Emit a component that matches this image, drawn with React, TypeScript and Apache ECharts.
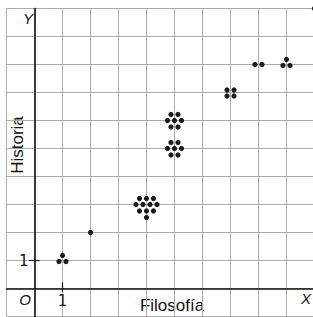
import React, { useEffect, useRef } from "react";
import * as echarts from "echarts";

// Bivariate frequency data (Filosofía, Historia, number of students)
const filosofia = [1, 2, 4, 5, 5, 7, 8, 9, 10];
const historia = [1, 2, 3, 5, 6, 7, 8, 8, 10];
const frecuencia = [3, 1, 11, 7, 7, 4, 2, 3, 1];

// Axis tick labels shown
const xTickLabels = [1];
const yTickLabels = [1];

// Dot arrangement of each cluster (pixel offsets, style only)
const PATTERNS: Record<number, [number, number][]> = {
  1: [[0, 0]],
  2: [[-3.5, 0], [3.5, 0]],
  3: [[0, -5], [-3.5, 1], [3.5, 1]],
  4: [[-3.5, -2.5], [3.5, -2.5], [-3.5, 3.5], [3.5, 3.5]],
  7: [[-3.5, -6], [3.5, -6], [-7, 0], [0, 0], [7, 0], [-3.5, 6.5], [3.5, 6.5]],
  11: [
    [-7, -6], [0, -6], [7, -6],
    [-10.5, 0], [-3.5, 0], [3.5, 0], [10.5, 0],
    [-7, 6.5], [0, 6.5], [7, 6.5],
    [0, 13],
  ],
};

const SANS = '"Liberation Sans", Arial, Helvetica, sans-serif';
const NUM = '"DejaVu Sans", sans-serif';
const INK = "#151515";

export default function App() {
  const ref = useRef<HTMLDivElement>(null);
  useEffect(() => {
    const chart = echarts.init(ref.current!, null, { renderer: "svg" });
    const tickData = [
      ...xTickLabels.map((v) => [v, 0, 0]),
      ...yTickLabels.map((v) => [0, v, 1]),
    ];
    const axisCommon = {
      type: "value",
      min: -1,
      max: 10,
      interval: 1,
      axisLine: { onZero: true, lineStyle: { color: INK, width: 1.6 } },
      axisTick: { show: false },
      axisLabel: { show: false },
      splitLine: { show: true, lineStyle: { color: "#ababab", width: 1 } },
    };
    chart.setOption({
      animation: false,
      backgroundColor: "#ffffff",
      grid: {
        left: 6.5,
        top: 8.5,
        width: 308,
        height: 308,
        containLabel: false,
        outerBoundsMode: "none",
      },
      xAxis: axisCommon,
      yAxis: axisCommon,
      graphic: [
        {
          type: "text",
          x: 33,
          y: 18,
          style: { text: "Y", align: "right", verticalAlign: "middle", font: `italic 15px ${SANS}`, fill: INK },
        },
        {
          type: "text",
          x: 25,
          y: 299,
          style: { text: "O", align: "center", verticalAlign: "middle", font: `italic 15px ${SANS}`, fill: INK },
        },
        {
          type: "text",
          x: 306,
          y: 298,
          style: { text: "X", align: "center", verticalAlign: "middle", font: `italic 15px ${SANS}`, fill: INK },
        },
        {
          type: "text",
          x: 172,
          y: 305.5,
          style: { text: "Filosofía", align: "center", verticalAlign: "middle", font: `17px ${SANS}`, fill: INK },
        },
        {
          type: "text",
          x: 17,
          y: 145,
          rotation: Math.PI / 2,
          style: { text: "Historia", align: "center", verticalAlign: "middle", font: `17px ${SANS}`, fill: INK },
        },
      ],
      series: [
        {
          type: "custom",
          coordinateSystem: "cartesian2d",
          clip: false,
          silent: true,
          data: tickData,
          renderItem: (_p: any, api: any) => {
            const c = api.coord([api.value(0), api.value(1)]);
            const vertical = api.value(2) === 0;
            const label = String(vertical ? api.value(0) : api.value(1));
            return {
              type: "group",
              children: [
                {
                  type: "line",
                  shape: vertical
                    ? { x1: c[0], y1: c[1] - 6, x2: c[0], y2: c[1] + 3.5 }
                    : { x1: c[0] - 5.5, y1: c[1], x2: c[0] + 5, y2: c[1] },
                  style: { stroke: INK, lineWidth: 1.2 },
                },
                {
                  type: "text",
                  x: vertical ? c[0] : c[0] - 6,
                  y: vertical ? c[1] + 12 : c[1],
                  style: {
                    text: label,
                    align: vertical ? "center" : "right",
                    verticalAlign: "middle",
                    font: `15px ${NUM}`,
                    fill: INK,
                  },
                },
              ],
            };
          },
        },
        {
          type: "custom",
          coordinateSystem: "cartesian2d",
          clip: false,
          silent: true,
          data: filosofia.map((x, i) => [x, historia[i], frecuencia[i]]),
          renderItem: (_p: any, api: any) => {
            const c = api.coord([api.value(0), api.value(1)]);
            const n = api.value(2) as number;
            const offs = PATTERNS[n] || [[0, 0]];
            return {
              type: "group",
              children: offs.map(([dx, dy]) => ({
                type: "circle",
                shape: { cx: c[0] + dx, cy: c[1] + dy, r: 2.6 },
                style: { fill: "#1a1a1a" },
              })),
            };
          },
        },
      ],
    });
    return () => chart.dispose();
  }, []);
  return (
    <div
      ref={ref}
      style={{ position: "fixed", left: 0, top: 0, width: 313, height: 317 }}
    />
  );
}
